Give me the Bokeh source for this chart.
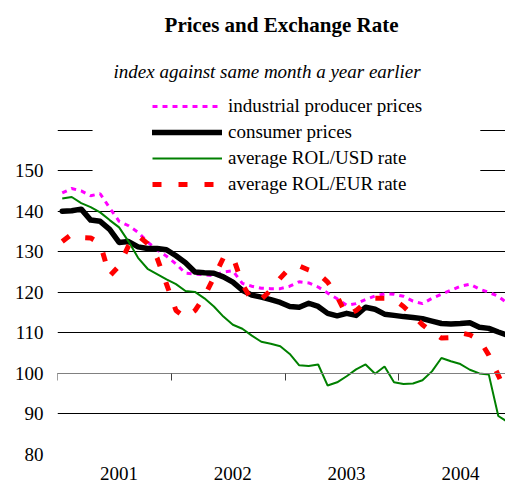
from bokeh.plotting import figure
from bokeh.models import (FixedTicker, LinearAxis, Title, Legend, LegendItem,
                          BoxAnnotation, Range1d, ColumnDataSource)
from bokeh.embed import file_html
from bokeh.resources import INLINE

# Monthly data, Jan 2001 .. Dec 2004 (index against same month a year earlier)
month_index = list(range(48))
producer = [144.5, 145.6, 145.0, 143.8, 144.3, 140.8, 137.5, 136.4, 134.8, 132.4, 130.5, 128.9,
            127.0, 124.7, 124.5, 124.3, 124.1, 125.0, 125.3, 122.2, 121.5, 121.0, 120.9, 120.9,
            121.5, 122.6, 122.3, 121.3, 119.8, 118.4, 116.8, 117.2, 118.2, 119.1, 119.6, 119.5,
            119.0, 117.8, 117.2, 118.5, 119.5, 120.5, 121.5, 122.0, 120.8, 120.0, 119.0, 117.2]
consumer = [140.0, 140.1, 140.5, 137.8, 137.5, 135.5, 132.3, 132.5, 131.2, 130.8, 130.8, 130.5,
            129.0, 127.3, 125.0, 124.8, 124.7, 123.8, 122.5, 120.5, 119.3, 118.8, 118.2, 117.5,
            116.5, 116.3, 117.3, 116.5, 114.8, 114.2, 114.8, 114.3, 116.3, 115.8, 114.6, 114.3,
            114.0, 113.8, 113.5, 112.9, 112.3, 112.2, 112.3, 112.5, 111.4, 111.1, 110.2, 109.4]
rol_usd = [143.1, 143.5, 142.0, 141.0, 139.7, 137.8, 136.0, 132.5, 128.5, 125.8, 124.5, 123.2,
           122.0, 120.3, 120.1, 118.5, 116.5, 114.0, 112.0, 111.0, 109.3, 107.8, 107.3, 106.7,
           104.8, 102.0, 101.8, 102.2, 97.0, 97.8, 99.3, 101.0, 102.2, 99.9, 101.7, 97.8,
           97.4, 97.5, 98.3, 100.5, 103.8, 103.0, 102.3, 100.9, 100.0, 99.7, 89.5, 88.0]
rol_eur = [132.5, 134.3, 133.5, 133.4, 132.0, 124.0, 126.5, 131.5, 134.0, 132.0, 128.5, 122.0,
           115.5, 113.8, 115.5, 119.0, 123.7, 128.5, 128.8, 122.0, 118.0, 118.3, 120.5, 123.5,
           126.0, 126.5, 125.5, 124.7, 122.5, 119.0, 114.3, 115.5, 117.5, 118.5, 118.5, 118.2,
           116.5, 114.3, 112.0, 110.2, 108.7, 108.8, 110.0, 109.5, 108.3, 104.5, 99.5, 94.5]

series_labels = ["industrial producer prices", "consumer prices",
                 "average ROL/USD rate", "average ROL/EUR rate"]
year_labels = ["2001", "2002", "2003", "2004"]
y_tick_values = [80, 90, 100, 110, 120, 130, 140, 150]
grid_values = [80, 90, 100, 110, 120, 130, 140, 150, 160, 170]

SERIF = "Liberation Serif"

x_pos = [m + 0.5 for m in month_index]
src = ColumnDataSource(dict(x=x_pos, producer=producer, consumer=consumer,
                            usd=rol_usd, eur=rol_eur))

p = figure(width=505, height=486, output_backend="svg", toolbar_location=None,
           x_range=Range1d(0, 47.26), y_range=Range1d(80, 170),
           x_axis_type=None, min_border_left=57, min_border_right=0,
           min_border_top=89, min_border_bottom=32)
p.outline_line_color = None
p.background_fill_color = "white"
p.border_fill_color = "white"

# y axis
yax = p.yaxis[0]
yax.ticker = FixedTicker(ticks=y_tick_values)
yax.major_tick_out = 0
yax.major_tick_in = 0
yax.minor_tick_out = 0
yax.minor_tick_in = 0
yax.axis_line_color = None
yax.major_label_text_font = SERIF
yax.major_label_text_font_size = "19px"
yax.major_label_text_color = "black"
yax.major_label_standoff = 14

p.ygrid.ticker = FixedTicker(ticks=grid_values)
p.ygrid.grid_line_color = "black"
p.ygrid.grid_line_width = 1

# mask grid lines behind the legend
mask = BoxAnnotation(left=3.7, right=44.6, bottom=147, top=165, fill_color="white",
                     fill_alpha=1.0, line_color=None, level="underlay")
p.add_layout(mask)

# axis crossing at 100 with year boundary ticks
year_bounds = [0, 12, 24, 36]
ax100 = LinearAxis(fixed_location=100, ticker=FixedTicker(ticks=year_bounds),
                   major_label_overrides={b: "" for b in year_bounds},
                   major_tick_in=0, major_tick_out=7, minor_tick_in=0, minor_tick_out=0,
                   axis_line_color="#808080", major_tick_line_color="#404040",
                   major_label_text_font_size="1px", major_label_standoff=0)
p.add_layout(ax100, "below")

# year labels at the bottom
year_pos = [b + 6.5 for b in year_bounds]
yr_axis = LinearAxis(ticker=FixedTicker(ticks=year_pos),
                     major_label_overrides={pos: lab for pos, lab in zip(year_pos, year_labels)},
                     major_tick_in=0, major_tick_out=0, minor_tick_in=0, minor_tick_out=0,
                     axis_line_color=None, major_label_standoff=12,
                     major_label_text_font=SERIF, major_label_text_font_size="19px",
                     major_label_text_color="black")
p.add_layout(yr_axis, "below")

r_prod = p.line("x", "producer", source=src, line_color="#FF00FF", line_width=3,
                line_dash="5 5")
r_cons = p.line("x", "consumer", source=src, line_color="black", line_width=5.5,
                line_join="round", line_cap="round")
r_usd = p.line("x", "usd", source=src, line_color="#008000", line_width=2)
r_eur = p.line("x", "eur", source=src, line_color="#FF0000", line_width=5,
               line_dash="9 17")

legend = Legend(items=[LegendItem(label=series_labels[0], renderers=[r_prod]),
                       LegendItem(label=series_labels[1], renderers=[r_cons]),
                       LegendItem(label=series_labels[2], renderers=[r_usd]),
                       LegendItem(label=series_labels[3], renderers=[r_eur])],
                location=(95, 257), background_fill_alpha=0, border_line_color=None,
                glyph_width=70, glyph_height=26, label_height=26, spacing=0, padding=4,
                margin=0, label_standoff=6, label_text_font=SERIF,
                label_text_font_size="19px", label_text_color="black")
p.add_layout(legend)

sub = Title(text="index against same month a year earlier", align="left",
            text_font=SERIF, text_font_style="italic", text_font_size="19px",
            text_color="black", standoff=16, offset=56)
main = Title(text="Prices and Exchange Rate", align="center", vertical_align="top",
             text_font=SERIF, text_font_style="bold", text_font_size="21px",
             text_color="black", standoff=24, offset=0)
p.add_layout(sub, "above")
p.add_layout(main, "above")

open("out.html", "w").write(file_html(p, INLINE))
